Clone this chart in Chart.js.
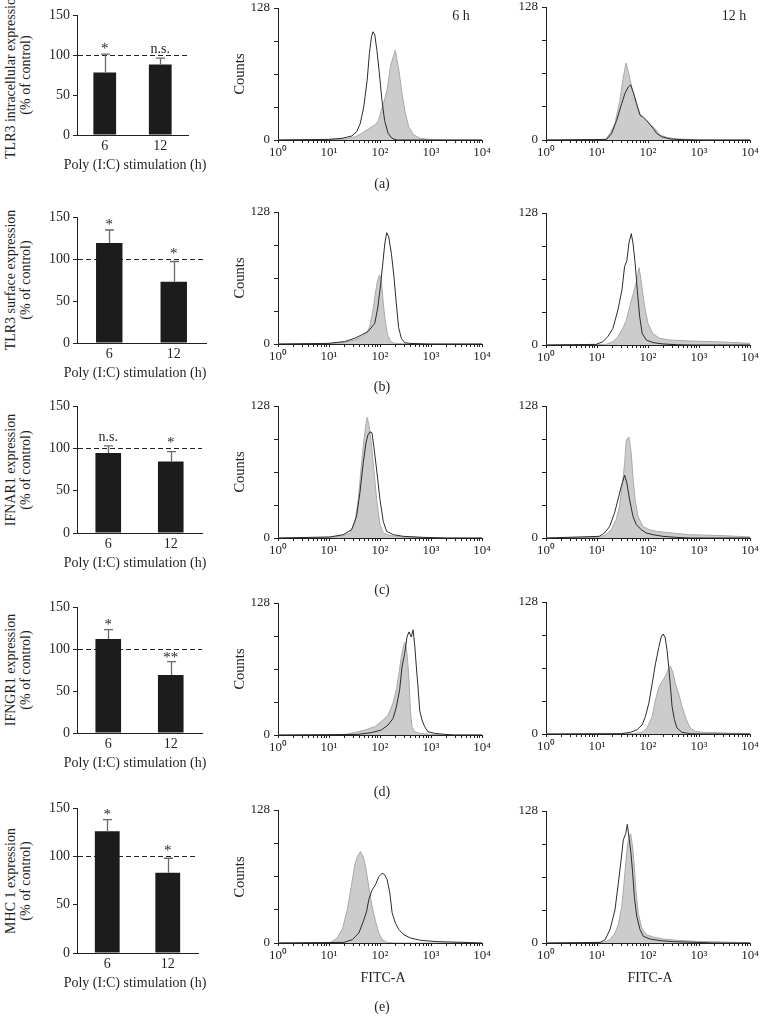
<!DOCTYPE html>
<html><head><meta charset="utf-8">
<script src="https://cdn.jsdelivr.net/npm/chart.js@4/dist/chart.umd.min.js"></script>
<style>
html,body{margin:0;padding:0;background:#fff}
body{width:760px;height:1023px;position:relative;overflow:hidden;font-family:"Liberation Serif","Times New Roman",serif;color:#231f20}
canvas{position:absolute}
.t{position:absolute;white-space:nowrap;font-size:13.5px;line-height:1;transform:translate(-50%,-50%)}
.rot{position:absolute;white-space:nowrap;font-size:13.5px;line-height:15px;text-align:center;transform:translate(-50%,-50%) rotate(-90deg)}
</style></head><body>
<script>
// ---------------- data ----------------
const hours = ['6', '12'];
const pctTicks = [0, 50, 100, 150];
const countTicks = [0, 32, 64, 96, 128];
const fitcDecades = [1, 10, 100, 1000, 10000];
const fitcDecadeLabels = ['10⁰', '10¹', '10²', '10³', '10⁴'];

const tlr3IntraMean = [78, 88],   tlr3IntraSD = [23, 8],    tlr3IntraSig = ['*', 'n.s.'];
const tlr3SurfMean  = [119, 73],  tlr3SurfSD  = [15.5, 24], tlr3SurfSig  = ['*', '*'];
const ifnar1Mean    = [94.5, 84.5], ifnar1SD  = [8.5, 11.5], ifnar1Sig   = ['n.s.', '*'];
const ifngr1Mean    = [112, 69],  ifngr1SD    = [11, 16],   ifngr1Sig    = ['*', '**'];
const mhc1Mean      = [126, 83],  mhc1SD      = [12, 15],   mhc1Sig      = ['*', '*'];

// histograms: [FITC-A, counts]; Poly = open curve, Ctrl = grey filled
const aPoly6h = [[1,0],[9.8,0.6],[18,1.6],[28,3.9],[35,8.1],[41,16],[48,32],[56,58],[62,84],[68,100],[73,105],[79,102],[87,87],[97,65],[109,39],[123,19],[144,6.5],[172,1.6],[215,0],[10000,0]];
const aCtrl6h = [[1,0],[10,0.5],[21,1],[33,3.2],[44,6.5],[60,11],[81,15],[94,19],[106,29],[118,36],[137,48],[160,71],[177,79],[200,87],[215,78],[239,65],[270,45],[314,26],[365,13],[457,5],[617,1.6],[900,0.6],[1645,0],[10000,0]];
const aCtrl12h = [[1,0],[14.4,0],[18,6.4],[22.5,16],[28,38],[33,61],[37,74],[41,66],[48,51],[60,32],[75,22],[94,18],[118,14],[137,11],[172,4.8],[232,2.6],[365,1],[667,0.6],[1216,0],[10000,0]];
const aPoly12h = [[1,0],[15.5,0.6],[19.4,6.4],[24.3,19],[30.5,35],[35.4,45],[41,51],[45.7,53],[51.5,46],[60,35],[69.7,24],[81,22],[94,19],[109,15],[127,11],[148,6.4],[185,3.2],[270,1],[493,0.3],[900,0],[10000,0]];

const bPoly6h = [[1,0],[9.6,0.6],[20,2.3],[32,5.5],[43,8.7],[58,12],[79,20],[91,36],[103,58],[115,81],[124,97],[135,108],[148,104],[167,88],[188,65],[209,39],[232,16],[262,5.5],[305,1.3],[380,0.6],[871,0],[10000,0]];
const bCtrl6h = [[1,0],[9.6,0.3],[20,1.6],[32,3.9],[43,7.1],[54,10.3],[63,17],[73,33],[81,49],[89,61],[98,67],[106,62],[115,42],[124,26],[139,10],[162,2.3],[194,0.6],[411,0],[10000,0]];
const bPoly12h = [[1,0],[9.6,0.6],[13,3.2],[16.3,8],[20.5,16],[25.7,34],[31,54],[34.7,76],[38.6,82],[42.3,99],[47,108],[50.7,99],[56,79],[61.7,53],[68.5,28],[77,11],[93,4.8],[125,2.3],[197,1],[361,0.3],[700,0],[10000,0]];
const bCtrl12h = [[1,0],[15,0.6],[20.5,3.2],[25.7,8],[32,16],[37.5,24],[43.6,37],[50.7,49],[57,58],[61.7,65],[66.5,75],[70.7,68],[77.4,53],[86,37],[100,21],[125,11],[170,6.5],[267,4.8],[661,3.9],[2985,2.9],[10000,1.6]];

const cCtrl6h = [[1,0],[10.4,0.6],[19,2.3],[25.7,4.8],[32,14.5],[37.5,37],[43.6,73],[48.4,95],[53,111],[56,117],[61.7,108],[68.5,89],[76,66],[86,37],[100,13],[116,4.8],[157,2.3],[288,1],[964,0.3],[2000,0],[10000,0]];
const cPoly6h = [[1,0],[10.4,1],[19,3.2],[27.7,8],[34.7,21],[40.4,44],[47,73],[53,92],[58,100],[63.6,103],[69.6,102],[76,88],[86,66],[100,37],[116,16],[135,6.5],[183,3.2],[288,1.6],[711,0.6],[2000,0],[10000,0]];
const cCtrl12h = [[1,0],[11,0.6],[15,3.2],[19,8],[23.8,18],[27.7,31],[31,50],[34.8,72],[37.5,95],[42.3,98],[47,82],[50.7,59],[56,37],[63.6,21],[80,11],[108,8],[146,6.4],[310,4.8],[661,3.2],[2985,2.3],[10000,1]];
const cPoly12h = [[1,0],[11,1.6],[14,4.8],[17.6,11],[22,24],[25.7,37],[29.9,50],[34.8,61],[38.6,53],[43.6,37],[50.7,21],[59,13],[74,8],[93,4.8],[125,3.2],[197,1.6],[361,0.6],[661,0],[10000,0]];

const dPoly6h = [[1,0],[37,0.6],[68,2.3],[106,4.8],[144,9.7],[180,16],[209,27],[243,44],[270,66],[305,79],[338,95],[370,100],[411,95],[444,102],[478,88],[516,66],[556,47],[600,24],[666,14.5],[751,8],[873,3.2],[1180,1.6],[1854,0.6],[2800,0],[10000,0]];
const dCtrl6h = [[1,0],[17.5,0],[27.4,1.6],[50,4.8],[78.6,8],[115,14.5],[144,19.4],[180,31],[209,44],[236,60],[262,76],[291,87],[314,90],[344,76],[370,53],[394,24],[424,8],[478,3.2],[600,1.6],[1015,0.6],[1850,0],[10000,0]];
const dPoly12h = [[1,0],[29,0.3],[45.6,1.6],[61.5,4.2],[77,9],[89,17],[104,30],[121,49],[140,68],[163,84],[181,94],[198,97],[216,94],[237,81],[255,65],[275,46],[296,27],[329,14],[371,5.8],[464,1.6],[675,0.3],[1200,0],[10000,0]];
const dCtrl12h = [[1,0],[53,0.3],[77,1.6],[96,5.8],[121,17],[140,33],[163,45],[189,51],[219,56],[247,62],[275,66],[310,59],[344,49],[400,39],[464,27],[564,14],[675,5.8],[845,2.6],[1228,1.6],[3020,1],[10000,0.3]];

const eCtrl6h = [[1,0],[10.7,0.6],[14.5,4.8],[18.2,13],[22.8,32],[27.3,54],[31.7,74],[35.7,83],[41.5,88],[46.8,83],[52,74],[60.4,54],[70,35],[81.6,21],[95,9.6],[110,3.2],[138,0.6],[200,0],[10000,0]];
const ePoly6h = [[1,0],[19.6,0.6],[28.5,3.2],[38.5,9.6],[48,22],[54.4,30],[60.4,42],[70,51],[81.6,56],[95,64],[110,67],[122,66],[138,61],[156,48],[173,29],[201,19],[234,13],[293,8],[395,4.8],[621,2.6],[1315,1.3],[4370,0.6],[10000,0]];
const ePoly12h = [[1,0],[11.5,0.6],[14.4,3.2],[18,13],[22.5,32],[26.2,58],[29.6,80],[32.8,100],[36.5,106],[39.3,115],[43,100],[46.4,87],[50,68],[54,45],[60,26],[69.7,13],[81,6.4],[109,3.9],[172,2.3],[314,1.3],[900,0.6],[2000,0],[10000,0]];
const eCtrl12h = [[1,0],[13.3,0.6],[18,3.2],[22.5,9.6],[26.2,18],[30.5,35],[33.8,58],[37,80],[39.9,96],[43,104],[45.7,106],[50,93],[54,74],[58,51],[64.6,29],[75,14.5],[94,8],[127,5.8],[200,3.9],[365,2.6],[900,1.6],[3000,1],[10000,0.3]];

// ---------------- drawing ----------------
const INK = '#231f20';
const FAM = '"Liberation Serif","Times New Roman",serif';

function place(rect, pad) {
  const c = document.createElement('canvas');
  const w = rect.r - rect.l + pad.l + pad.r, h = rect.b - rect.t + pad.t + pad.b;
  c.width = w; c.height = h;
  c.style.left = (rect.l - pad.l) + 'px'; c.style.top = (rect.t - pad.t) + 'px';
  c.style.width = w + 'px'; c.style.height = h + 'px';
  document.body.appendChild(c);
  return c;
}
function fix(size) {
  return function (s) {
    if (s.isHorizontal()) s.height = size; else s.width = size;
    s.paddingLeft = s.paddingRight = s.paddingTop = s.paddingBottom = 0;
  };
}

const barExtras = {
  id: 'barExtras',
  beforeDatasetsDraw(chart, args, o) {
    const { ctx, scales: { x, y } } = chart;
    ctx.save();
    ctx.strokeStyle = INK; ctx.lineWidth = 1.2; ctx.setLineDash([5, 3]);
    const yy = Math.round(y.getPixelForValue(100)) + 0.5;
    ctx.beginPath(); ctx.moveTo(x.left + 1, yy); ctx.lineTo(x.right, yy); ctx.stroke();
    ctx.restore();
  },
  afterDatasetsDraw(chart, args, o) {
    const { ctx, scales: { y } } = chart;
    const meta = chart.getDatasetMeta(0);
    const means = chart.data.datasets[0].data;
    const dashY = y.getPixelForValue(100);
    ctx.save();
    meta.data.forEach((bar, i) => {
      const top = y.getPixelForValue(means[i] + o.sd[i]);
      const base = y.getPixelForValue(means[i]);
      const cx = Math.round(bar.x) + 0.5;
      ctx.strokeStyle = '#6a6a6a'; ctx.lineWidth = 1.3;
      ctx.beginPath();
      ctx.moveTo(cx, base); ctx.lineTo(cx, top);
      ctx.moveTo(cx - 4.5, top); ctx.lineTo(cx + 4.5, top);
      ctx.stroke();
      ctx.fillStyle = INK;
      ctx.textAlign = 'center'; ctx.textBaseline = 'alphabetic';
      if (o.sig[i] === 'n.s.') {
        ctx.font = '14px ' + FAM; ctx.fillText(o.sig[i], bar.x, top - 5);
      } else {
        const gap = top - dashY;
        let center;
        if (gap < 0) center = top - 8;
        else if (gap <= 8) center = dashY - 8;
        else center = Math.max(top - 9, dashY + 6);
        ctx.font = '15px ' + FAM; ctx.fillText(o.sig[i], bar.x, center + 7);
      }
    });
    ctx.restore();
  }
};

function barChart(rect, mean, sd, sig) {
  const pad = { l: 40, r: 8, t: 30, b: 24 };
  const c = place(rect, pad);
  new Chart(c, {
    type: 'bar',
    data: { labels: hours, datasets: [{ data: mean, backgroundColor: '#1c1c1c', borderWidth: 0, barPercentage: 0.41, categoryPercentage: 1 }] },
    options: {
      responsive: false, animation: false, devicePixelRatio: 1,
      layout: { padding: { left: 0, top: pad.t, right: pad.r, bottom: 0 } },
      plugins: { legend: { display: false }, tooltip: { enabled: false }, barExtras: { sd: sd, sig: sig } },
      scales: {
        x: {
          grid: { display: false, drawTicks: false },
          border: { color: INK, width: 1 },
          ticks: { font: { family: FAM, size: 14 }, color: INK, padding: 3, maxRotation: 0 },
          afterFit: fix(pad.b)
        },
        y: {
          min: 0, max: 150,
          afterBuildTicks: s => { s.ticks = pctTicks.map(v => ({ value: v })); },
          grid: { drawOnChartArea: false, drawTicks: true, tickLength: 4, color: INK },
          border: { color: INK, width: 1 },
          ticks: { font: { family: FAM, size: 14 }, color: INK, padding: 3 },
          afterFit: fix(pad.l)
        }
      }
    },
    plugins: [barExtras]
  });
}

function histChart(rect, poly, ctrl) {
  const pad = { l: 34, r: 12, t: 10, b: 24 };
  const c = place(rect, pad);
  new Chart(c, {
    type: 'line',
    data: {
      datasets: [
        { data: poly, borderColor: '#2b2b2b', borderWidth: 1, pointRadius: 0, fill: false, tension: 0, order: 0 },
        { data: ctrl, borderColor: '#a9a9a9', backgroundColor: '#cccccc', borderWidth: 1, pointRadius: 0, fill: 'origin', tension: 0, order: 1 }
      ]
    },
    options: {
      responsive: false, animation: false, devicePixelRatio: 1,
      layout: { padding: { left: 0, top: pad.t, right: pad.r, bottom: 0 } },
      plugins: { legend: { display: false }, tooltip: { enabled: false } },
      scales: {
        x: {
          type: 'logarithmic', min: 1, max: 10000,
          afterBuildTicks: s => {
            const t = [];
            fitcDecades.forEach((d, k) => {
              if (k < fitcDecades.length - 1) { for (let m = 1; m < 10; m++) t.push({ value: d * m }); }
              else t.push({ value: d });
            });
            s.ticks = t;
          },
          grid: { drawOnChartArea: false, drawTicks: true, tickLength: 3, color: INK },
          border: { color: INK, width: 1 },
          ticks: {
            font: { family: FAM, size: 13 }, color: INK, padding: 2, autoSkip: false, maxRotation: 0,
            callback: (v) => { const k = fitcDecades.indexOf(v); return k >= 0 ? fitcDecadeLabels[k] : ''; }
          },
          afterFit: fix(pad.b)
        },
        y: {
          min: 0, max: 128,
          afterBuildTicks: s => { s.ticks = countTicks.map(v => ({ value: v })); },
          grid: { drawOnChartArea: false, drawTicks: true, tickLength: 4, color: INK },
          border: { color: INK, width: 1 },
          ticks: {
            font: { family: FAM, size: 13 }, color: INK, padding: 4,
            callback: (v) => (v === 0 || v === 128) ? String(v) : ''
          },
          afterFit: fix(pad.l)
        }
      }
    }
  });
}

function txt(s, x, y, cls, size) {
  const d = document.createElement('div');
  d.className = cls || 't';
  d.innerHTML = s;
  d.style.left = x + 'px'; d.style.top = y + 'px';
  if (size) d.style.fontSize = size + 'px';
  document.body.appendChild(d);
}

// bar charts
const barRects = [
  { l: 77, r: 188, t: 15, b: 135 },
  { l: 77, r: 206, t: 217, b: 343 },
  { l: 77, r: 202, t: 406, b: 533 },
  { l: 77, r: 202, t: 607, b: 733 },
  { l: 77, r: 198, t: 808, b: 953 }
];
barChart(barRects[0], tlr3IntraMean, tlr3IntraSD, tlr3IntraSig);
barChart(barRects[1], tlr3SurfMean, tlr3SurfSD, tlr3SurfSig);
barChart(barRects[2], ifnar1Mean, ifnar1SD, ifnar1Sig);
barChart(barRects[3], ifngr1Mean, ifngr1SD, ifngr1Sig);
barChart(barRects[4], mhc1Mean, mhc1SD, mhc1Sig);

const barTitles = ['TLR3 intracellular expression', 'TLR3 surface expression', 'IFNAR1 expression', 'IFNGR1 expression', 'MHC 1 expression'];
barRects.forEach((r, i) => {
  txt(barTitles[i] + '<br>(% of control)', 18, (r.t + r.b) / 2, 'rot', 14);
  txt('Poly (I:C) stimulation (h)', 135, r.b + 30, 't', 14);
});

// histograms
const midRects = [
  { l: 278, r: 482, t: 8, b: 140 },
  { l: 278, r: 482, t: 212, b: 344 },
  { l: 278, r: 482, t: 406, b: 538 },
  { l: 278, r: 482, t: 603, b: 735 },
  { l: 278, r: 482, t: 810, b: 943 }
];
const rightRects = [
  { l: 546, r: 750, t: 7, b: 140 },
  { l: 546, r: 750, t: 213, b: 345 },
  { l: 546, r: 750, t: 406, b: 538 },
  { l: 546, r: 750, t: 602, b: 734 },
  { l: 546, r: 750, t: 811, b: 943 }
];
histChart(midRects[0], aPoly6h, aCtrl6h);
histChart(rightRects[0], aPoly12h, aCtrl12h);
histChart(midRects[1], bPoly6h, bCtrl6h);
histChart(rightRects[1], bPoly12h, bCtrl12h);
histChart(midRects[2], cPoly6h, cCtrl6h);
histChart(rightRects[2], cPoly12h, cCtrl12h);
histChart(midRects[3], dPoly6h, dCtrl6h);
histChart(rightRects[3], dPoly12h, dCtrl12h);
histChart(midRects[4], ePoly6h, eCtrl6h);
histChart(rightRects[4], ePoly12h, eCtrl12h);

midRects.forEach(r => txt('Counts', 239, (r.t + r.b) / 2, 'rot', 14.5));
txt('6 h', 461, 16, 't', 14);
txt('12 h', 734, 16, 't', 14);
txt('FITC-A', 383, 978, 't', 14);
txt('FITC-A', 650, 978, 't', 14);
const panelY = [184, 387, 590, 792, 1007];
['(a)', '(b)', '(c)', '(d)', '(e)'].forEach((p, i) => txt(p, 382, panelY[i], 't', 14));
</script>
</body></html>
